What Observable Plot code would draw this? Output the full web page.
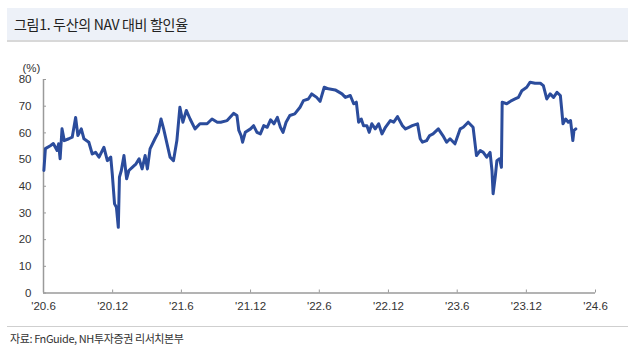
<!DOCTYPE html>
<html>
<head>
<meta charset="utf-8">
<script src="https://cdn.jsdelivr.net/npm/d3@7"></script>
<script src="https://cdn.jsdelivr.net/npm/@observablehq/plot@0.6"></script>
<style>
  html, body { margin: 0; padding: 0; background: #fff; }
  body { width: 633px; height: 359px; position: relative; overflow: hidden;
         font-family: "Liberation Sans", "Noto Sans CJK KR", sans-serif; }
  #title { position: absolute; left: 7px; top: 8px; width: 621px; height: 32px;
           background: #edf1f8; border-bottom: 2px solid #d8d8d8;
           font-family: "Noto Sans CJK KR", sans-serif; font-size: 14px; color: #222;
           line-height: 32px; box-sizing: content-box; }
  #title span { padding-left: 7px; letter-spacing: -0.3px; }
  #chart { position: absolute; left: 0; top: 42px; }
  #caption { position: absolute; left: 7px; top: 326px; width: 621px; border-top: 1px solid #cfcfcf;
             font-family: "Noto Sans CJK KR", sans-serif; font-size: 11px; color: #333;
             padding-top: 3px; letter-spacing: -0.4px; }
  #caption span { padding-left: 3px; }
</style>
</head>
<body>
<div id="title"><span>그림1. 두산의 NAV 대비 할인율</span></div>
<div id="chart"></div>
<div id="caption"><span>자료: FnGuide, NH투자증권 리서치본부</span></div>
<script>
const dates = [
  "2020-06-02","2020-06-06","2020-06-19","2020-06-27","2020-07-07","2020-07-11","2020-07-15","2020-07-20","2020-07-26",
  "2020-08-07","2020-08-16","2020-08-25","2020-08-31","2020-09-09","2020-09-16","2020-09-29","2020-10-08","2020-10-17",
  "2020-10-26","2020-11-08","2020-11-17","2020-11-26","2020-11-30","2020-12-06","2020-12-11","2020-12-16","2020-12-19",
  "2020-12-24","2020-12-31","2021-01-07","2021-01-13","2021-01-22","2021-02-01","2021-02-09","2021-02-17","2021-02-25",
  "2021-03-03","2021-03-10","2021-03-23","2021-04-01","2021-04-08","2021-04-15","2021-04-24","2021-05-02","2021-05-11",
  "2021-05-20","2021-05-28","2021-06-05","2021-06-14","2021-06-24","2021-07-07","2021-07-20","2021-08-08","2021-08-21",
  "2021-09-04","2021-09-13","2021-09-30","2021-10-17","2021-10-26","2021-10-31","2021-11-06","2021-11-10","2021-11-17",
  "2021-12-01","2021-12-09","2021-12-18","2021-12-27","2022-01-05","2022-01-14","2022-01-23","2022-02-01","2022-02-10",
  "2022-02-18","2022-02-25","2022-03-05","2022-03-15","2022-03-28","2022-04-11","2022-04-20","2022-05-03","2022-05-12",
  "2022-05-25","2022-06-03","2022-06-14","2022-06-25","2022-07-13","2022-07-31","2022-08-09","2022-08-22","2022-08-31",
  "2022-09-07","2022-09-13","2022-09-20","2022-09-26","2022-10-05","2022-10-11","2022-10-18","2022-10-27","2022-11-05",
  "2022-11-14","2022-11-23","2022-12-06","2022-12-15","2022-12-25","2023-01-07","2023-01-15","2023-01-24","2023-02-02",
  "2023-02-16","2023-02-23","2023-03-01","2023-03-12","2023-03-20","2023-03-29","2023-04-12","2023-04-24","2023-05-04",
  "2023-05-13","2023-05-26","2023-06-09","2023-06-17","2023-06-30","2023-07-13","2023-07-22","2023-08-01","2023-08-09",
  "2023-08-18","2023-08-27","2023-09-01","2023-09-04","2023-09-10","2023-09-14","2023-09-21","2023-09-26","2023-09-28",
  "2023-10-10","2023-10-23","2023-11-01","2023-11-10","2023-11-19","2023-12-02","2023-12-11","2023-12-24","2024-01-07",
  "2024-01-15","2024-01-24","2024-02-02","2024-02-11","2024-02-20","2024-02-29","2024-03-03","2024-03-07","2024-03-14",
  "2024-03-21","2024-03-27","2024-04-02","2024-04-05","2024-04-10"
];
const values = [
  45.9,54.1,55.2,56.0,53.4,55.9,50.3,61.5,57.1,
  57.8,58.4,65.8,59.0,61.5,57.8,56.5,52.1,52.7,
  50.9,54.6,49.6,50.9,44.6,33.4,32.1,24.6,43.4,
  45.9,51.5,42.8,45.9,47.1,48.4,50.3,46.5,51.5,
  46.5,54.0,57.8,60.2,65.2,61.5,55.9,50.9,49.6,
  57.1,69.6,64.0,68.4,65.2,61.5,63.4,63.4,65.2,
  64.0,64.0,64.6,67.3,66.5,60.9,59.0,56.5,60.2,
  61.5,62.7,60.2,59.6,62.7,62.1,64.9,63.4,65.8,
  62.1,60.2,64.0,66.5,67.1,69.6,72.1,72.7,74.6,
  73.3,71.8,77.1,76.5,76.1,74.6,73.3,74.0,70.9,
  71.5,64.0,65.2,62.7,62.7,60.2,63.4,61.5,63.4,
  59.6,62.1,64.6,64.0,66.1,62.7,61.5,62.1,62.7,
  63.4,57.8,56.5,57.1,59.0,59.6,61.5,59.0,56.5,
  57.8,55.9,61.5,62.1,64.0,62.1,51.5,53.4,52.7,
  50.9,52.7,45.9,37.2,44.0,49.6,50.3,47.1,71.5,
  70.9,72.1,72.7,73.3,75.8,77.1,79.0,78.6,78.6,
  77.7,72.7,74.6,73.3,75.2,74.0,69.6,63.4,65.2,
  64.0,64.6,57.1,60.9,61.5
];
const tickDates = ["2020-06-01","2020-12-01","2021-06-01","2021-12-01","2022-06-01","2022-12-01","2023-06-01","2023-12-01","2024-06-01"];
const tickLabels = ["'20.6","'20.12","'21.6","'21.12","'22.6","'22.12","'23.6","'23.12","'24.6"];
const yTicks = [0, 10, 20, 30, 40, 50, 60, 70, 80];

const parse = d3.utcParse("%Y-%m-%d");
const data = dates.map((d, i) => ({date: parse(d), value: values[i]}));
const xTicks = tickDates.map(parse);
const labelOf = new Map(xTicks.map((d, i) => [+d, tickLabels[i]]));

const W = 633, H = 280;
const mL = 43, mR = 38, mT = 37, mB = 29.5;
const frameW = W - mL - mR, frameH = H - mT - mB;
const axisColor = "#9a9a9a";

const chart = Plot.plot({
  width: W, height: H,
  marginLeft: mL, marginRight: mR, marginTop: mT, marginBottom: mB,
  style: {fontFamily: "'Liberation Sans', Arial, sans-serif", fontSize: "11px", color: "#333", background: "transparent"},
  x: {type: "utc", domain: [xTicks[0], xTicks[xTicks.length - 1]]},
  y: {domain: [0, 80]},
  marks: [
    Plot.axisY(yTicks, {tickSize: 0, tickPadding: 12, label: null, fontSize: 11.5, fill: "#333"}),
    Plot.axisX(xTicks, {tickSize: 0, tickPadding: 9, label: null, fontSize: 11.5, fill: "#333",
      tickFormat: d => labelOf.get(+d)}),
    Plot.ruleY(yTicks, {y: d => d, insetRight: frameW - 3, stroke: axisColor, strokeWidth: 1}),
    Plot.ruleX(xTicks, {x: d => d, insetTop: frameH - 3, stroke: axisColor, strokeWidth: 1}),
    Plot.ruleX([xTicks[0]], {stroke: axisColor, strokeWidth: 1.5}),
    Plot.ruleY([0], {stroke: axisColor, strokeWidth: 1.5}),
    Plot.lineY(data, {x: "date", y: "value", stroke: "#2b4c9c", strokeWidth: 3, strokeLinejoin: "round"}),
    Plot.text(["(%)"], {frameAnchor: "top-left", text: d => d, dx: -21, dy: -16, fontSize: 11.5, fill: "#333"})
  ]
});
document.getElementById("chart").appendChild(chart);
</script>
</body>
</html>
